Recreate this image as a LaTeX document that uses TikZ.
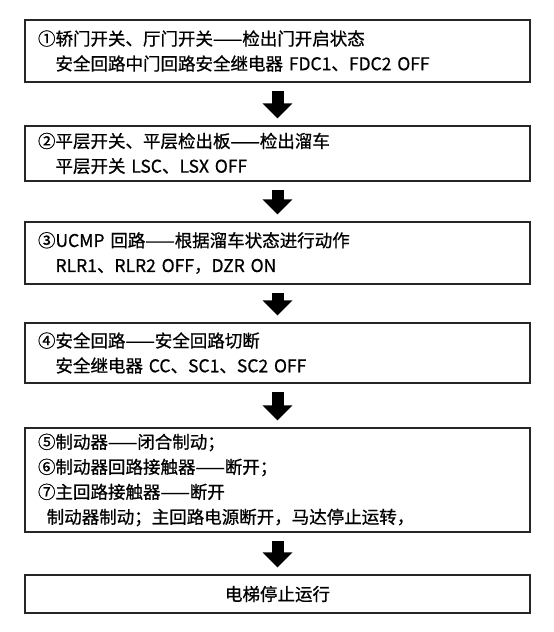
\documentclass[tikz,border=0pt]{standalone}
\usepackage{fontspec}
\setmainfont{Noto Sans CJK SC}[FakeBold=0.8]
\usetikzlibrary{arrows.meta}
\tikzset{stepbox/.style={draw=black!85, line width=1.3pt, text width=479pt, inner xsep=13pt, inner ysep=0pt, align=left, font=\fontsize{17.5}{25}\selectfont}}

\begin{document}
\begin{tikzpicture}[x=1pt, y=-1pt, bigarrow/.style={line width=12pt, -{Triangle[width=29pt,length=15pt]}, shorten <=8pt, shorten >=7pt}]
    \useasboundingbox (0,0) rectangle (554,632);
    \node[stepbox, minimum height=62pt] (door) at (277.5,51) {①轿门开关、厅门开关——检出门开启状态\\\hspace*{1em}安全回路中门回路安全继电器 FDC1、FDC2 OFF};
    \node[stepbox, minimum height=55pt] (level) at (277.5,153.5) {②平层开关、平层检出板——检出溜车\\\hspace*{1em}平层开关 LSC、LSX OFF};
    \node[stepbox, minimum height=62pt] (ucmp) at (277.5,253) {③UCMP 回路——根据溜车状态进行动作\\\hspace*{1em}RLR1、RLR2 OFF，DZR ON};
    \node[stepbox, minimum height=60pt] (safety) at (277.5,353) {④安全回路——安全回路切断\\\hspace*{1em}安全继电器 CC、SC1、SC2 OFF};
    \node[stepbox, minimum height=104pt] (brake) at (277.5,480) {⑤制动器——闭合制动；\\⑥制动器回路接触器——断开；\\⑦主回路接触器——断开\\\hspace*{0.5em}制动器制动；主回路电源断开，马达停止运转，};
    \node[stepbox, minimum height=38pt, align=center] (stop) at (277.5,594) {电梯停止运行};
    % arrows between the steps
    \draw[bigarrow] (door) -- (level);
    \draw[bigarrow] (level) -- (ucmp);
    \draw[bigarrow] (ucmp) -- (safety);
    \draw[bigarrow] (safety) -- (brake);
    \draw[bigarrow] (brake) -- (stop);
\end{tikzpicture}
\end{document}
